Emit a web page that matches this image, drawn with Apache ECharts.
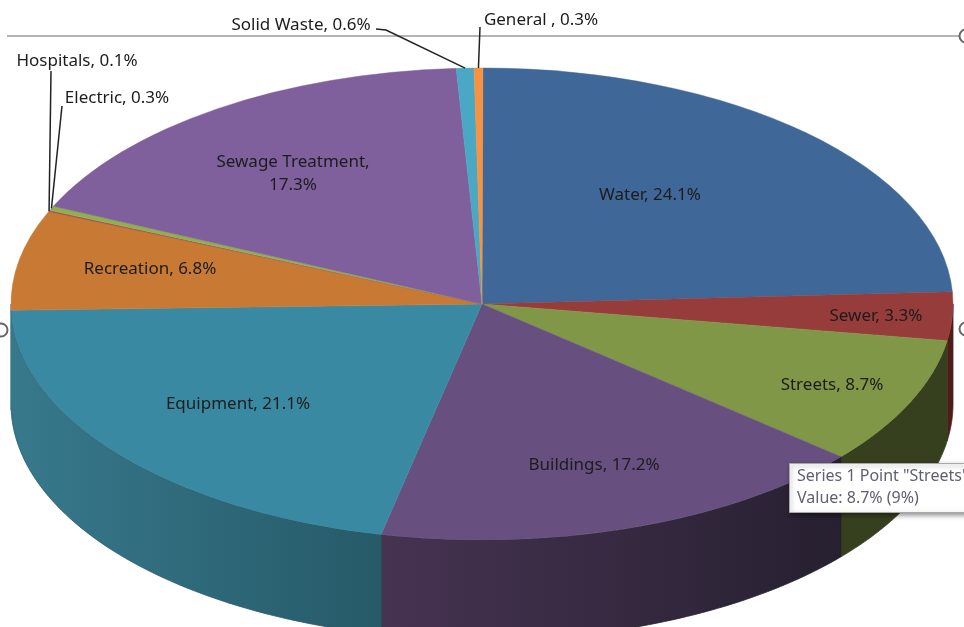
<!DOCTYPE html>
<html>
<head>
<meta charset="utf-8">
<style>
  html, body { margin: 0; padding: 0; background: #fff; }
  #container { width: 964px; height: 627px; }
</style>
<script src="https://cdn.jsdelivr.net/npm/echarts@6/dist/echarts.min.js"></script>
</head>
<body>
<div id="container"></div>
<script>
var categories = ["Water", "Sewer", "Streets", "Buildings", "Equipment", "Recreation", "Hospitals", "Electric", "Sewage Treatment", "Solid Waste", "General "];
var shares = [24.1, 3.3, 8.7, 17.2, 21.1, 6.8, 0.1, 0.3, 17.3, 0.6, 0.3];

var topColors = ["#3f6797", "#963d3b", "#7f9746", "#67507f", "#3a89a3", "#c87a35", "#a5524e", "#8fb04d", "#7f609c", "#4aa8c4", "#f69240"];
var sideColors = [null, ["#4f1c1a", "#4f1c1a"], ["#37401e", "#37401e"], ["#463352", "#272030"], ["#37798c", "#265a68"], ["#37798c", "#37798c"], null, null, null, null, null];

// label centre in page pixels, same order as categories
var labelPos = [[650, 195], [876, 316], [832, 385], [594, 465], [238, 404], [150, 269], [77, 61], [117, 98], [293, 174], [301, 25], [541, 20]];
var labelLines = [null, null, null, null, null, null, [[51, 71]], [[62, 106]], null, [[376, 29], [386, 30]], [[480, 27]]];

var cx = 482, cy = 304, rx = 471, ry = 236, depth = 100;
var startShare = 0.03;
var total = shares.reduce(function (a, b) { return a + b; }, 0);

var dom = document.getElementById("container");
var myChart = echarts.init(dom, null, { renderer: "canvas" });

function sliceAngles(i) {
  var before = startShare;
  for (var j = 0; j < i; j++) before += shares[j];
  return [before / total * Math.PI * 2, (before + shares[i]) / total * Math.PI * 2];
}

// angle is clockwise from twelve o'clock
function rim(a) {
  return [cx + rx * Math.sin(a), cy - ry * Math.cos(a)];
}

function renderSide(params, api) {
  var i = api.value(0);
  if (!sideColors[i]) return;
  var a = sliceAngles(i);
  var from = Math.max(a[0], Math.PI / 2), to = Math.min(a[1], Math.PI * 1.5);
  if (to <= from) return;
  var pts = [], n = 60, k, t, p;
  for (k = 0; k <= n; k++) {
    t = from + (to - from) * k / n;
    pts.push(rim(t));
  }
  for (k = n; k >= 0; k--) {
    t = from + (to - from) * k / n;
    p = rim(t);
    pts.push([p[0], p[1] + depth]);
  }
  return {
    type: "polygon",
    shape: { points: pts },
    style: {
      fill: new echarts.graphic.LinearGradient(0, 0, 1, 0, [
        { offset: 0, color: sideColors[i][0] },
        { offset: 1, color: sideColors[i][1] }
      ]),
      stroke: sideColors[i][1],
      lineWidth: 0.8
    }
  };
}

function renderTop(params, api) {
  var i = api.value(0);
  var a = sliceAngles(i);
  return {
    type: "sector",
    x: cx,
    y: cy,
    scaleY: ry / rx,
    shape: {
      cx: 0,
      cy: 0,
      r: rx,
      r0: 0,
      startAngle: a[0] - Math.PI / 2,
      endAngle: a[1] - Math.PI / 2,
      clockwise: true
    },
    style: { fill: topColors[i], stroke: topColors[i], lineWidth: 0.6 }
  };
}

function renderLabel(params, api) {
  var i = api.value(0);
  var name = categories[i] + ",";
  var value = shares[i].toFixed(1) + "%";
  var text = categories[i] == "Sewage Treatment" ? name + "\n" + value : name + " " + value;
  var children = [{
    type: "text",
    x: labelPos[i][0],
    y: labelPos[i][1],
    style: {
      text: text,
      fill: "#1c1c1c",
      font: "17px 'Noto Sans'",
      lineHeight: 23,
      align: "center",
      verticalAlign: "middle"
    }
  }];
  if (labelLines[i]) {
    var a = sliceAngles(i);
    var end = rim((a[0] + a[1]) / 2);
    children.push({
      type: "polyline",
      shape: { points: labelLines[i].concat([end]) },
      style: { stroke: "#222", lineWidth: 1.5, fill: null }
    });
  }
  return { type: "group", children: children };
}

var rows = categories.map(function (c, i) { return [i, shares[i]]; });

var option = {
  animation: false,
  backgroundColor: "#fff",
  tooltip: { show: false },
  graphic: [
    { type: "line", z: 0, shape: { x1: 7, y1: 36, x2: 960, y2: 36 }, style: { stroke: "#b4b4b4", lineWidth: 2 } },
    { type: "circle", z: 0, shape: { cx: 966, cy: 36, r: 6.5 }, style: { fill: "#fff", stroke: "#666", lineWidth: 2 } },
    { type: "circle", z: 0, shape: { cx: 966, cy: 329, r: 6.5 }, style: { fill: "#fff", stroke: "#666", lineWidth: 2 } },
    { type: "circle", z: 0, shape: { cx: 1, cy: 330, r: 6.5 }, style: { fill: "#fff", stroke: "#666", lineWidth: 2 } },
    {
      type: "rect",
      z: 100,
      shape: { x: 789.5, y: 463.5, width: 190, height: 49 },
      style: { fill: "#fff", stroke: "#a8a8a8", lineWidth: 1, shadowBlur: 5, shadowColor: "rgba(0,0,0,0.45)", shadowOffsetX: 1, shadowOffsetY: 2 }
    },
    {
      type: "text",
      z: 101,
      x: 797,
      y: 476,
      style: { text: 'Series 1 Point "Streets"', fill: "#5f6070", font: "16px 'Noto Sans'", verticalAlign: "middle" }
    },
    {
      type: "text",
      z: 101,
      x: 797,
      y: 498,
      style: { text: "Value: 8.7% (9%)", fill: "#5f6070", font: "16px 'Noto Sans'", verticalAlign: "middle" }
    }
  ],
  series: [
    { type: "custom", coordinateSystem: "none", z: 2, renderItem: renderSide, data: rows, silent: true, clip: false },
    { type: "custom", coordinateSystem: "none", z: 3, renderItem: renderTop, data: rows, silent: true, clip: false },
    { type: "custom", coordinateSystem: "none", z: 4, renderItem: renderLabel, data: rows, silent: true, clip: false }
  ]
};

myChart.setOption(option);
</script>
</body>
</html>
